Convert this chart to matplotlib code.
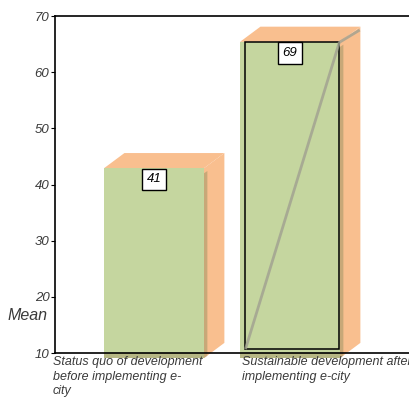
import matplotlib
matplotlib.use("Agg")
import matplotlib.pyplot as plt
from matplotlib.patches import Polygon, Rectangle
import matplotlib.transforms as mtransforms

categories = ["Status quo of development\nbefore implementing e-\ncity",
              "Sustainable development after\nimplementing e-city"]
means = [42.9, 65.4]
value_labels = ["41", "69"]
yticks = [10, 20, 30, 40, 50, 60, 70]

green = "#c5d69f"
orange = "#f9bf8f"
shade = "#a89a6a"
textc = "#3a3a3a"

plt.rcParams['font.family'] = ['Liberation Sans', 'DejaVu Sans']

fig = plt.figure(figsize=(4.09, 4.04), dpi=100)
ax = fig.add_axes([55/409, 51/404, 1 - 55/409, 337/404])
ax.set_xlim(-0.728, 1.875)
ax.set_ylim(10, 70)

xpos = [0, 1]
width = 0.735
bottom = 9.1
dx, dy = 0.15, 2.7  # 3D depth (style)

for i, (x, v) in enumerate(zip(xpos, means)):
    l, r = x - width/2, x + width/2
    side = Polygon([[r, bottom], [r + dx, bottom + dy], [r + dx, v + dy], [r, v]],
                   closed=True, facecolor=orange, edgecolor="none", clip_on=False, zorder=2)
    ax.add_patch(side)
    ax.add_patch(Polygon([[r, bottom], [r + 0.025, bottom + 0.4], [r + 0.025, v - 0.5], [r, v - 0.9]],
                         closed=True, facecolor=shade, edgecolor="none", alpha=0.6,
                         clip_on=False, zorder=2))
    top = Polygon([[l, v], [l + dx, v + dy], [r + dx, v + dy], [r, v]],
                  closed=True, facecolor=orange, edgecolor="none", clip_on=False, zorder=2)
    ax.add_patch(top)
    ax.bar([x], [v - bottom], bottom=bottom, width=width, color=green,
           edgecolor="none", clip_on=False, zorder=3)
    ax.add_patch(Rectangle((l, bottom), width, 10 - bottom, facecolor=shade, alpha=0.5,
                           edgecolor="none", clip_on=False, zorder=3))
    ax.text(x, v - 2, value_labels[i], ha="center", va="center", fontsize=9.5,
            style="italic", color="black", zorder=6,
            bbox=dict(boxstyle="square,pad=0.35", facecolor="white", edgecolor="black", lw=1))

# outlined box and diagonal on the second bar
x2, v2 = xpos[1], means[1]
l2 = x2 - width/2 + 0.04
r2 = x2 + width/2 - 0.005
ax.add_patch(Rectangle((l2, 10.7), r2 - l2, v2 - 0.1 - 10.7, facecolor="none",
                       edgecolor="black", lw=1.1, zorder=4))
ax.plot([l2, r2, r2 + dx], [10.7, v2 - 0.1, v2 + dy - 0.6], color="#a0a090",
        lw=2, alpha=0.8, zorder=4, clip_on=False, solid_capstyle="butt")

ax.spines["right"].set_visible(False)
for s in ["left", "bottom", "top"]:
    ax.spines[s].set_color("black")
    ax.spines[s].set_linewidth(1.2)
    ax.spines[s].set_zorder(5)

ax.set_yticks(yticks)
ax.set_yticklabels([str(t) for t in yticks], style="italic", fontsize=9.5, color=textc)
ax.tick_params(axis="y", length=3, pad=1, color="black")
ax.set_xticks(xpos)
ax.set_xticklabels([])
ax.tick_params(axis="x", length=2, direction="in", color="#555555")

offsets_px = [-101, -48]
for x, lab, off in zip(xpos, categories, offsets_px):
    tr = ax.get_xaxis_transform() + mtransforms.ScaledTranslation(off/100, -3/100, fig.dpi_scale_trans)
    ax.text(x, 0, lab, transform=tr, ha="left", va="top", fontsize=9, style="italic",
            color=textc, linespacing=1.3)

fig.text(28/409, 1 - 316/404, "Mean", ha="center", va="center", fontsize=11.5,
         style="italic", color=textc)

fig.savefig("out.png", dpi=100, facecolor="white")
